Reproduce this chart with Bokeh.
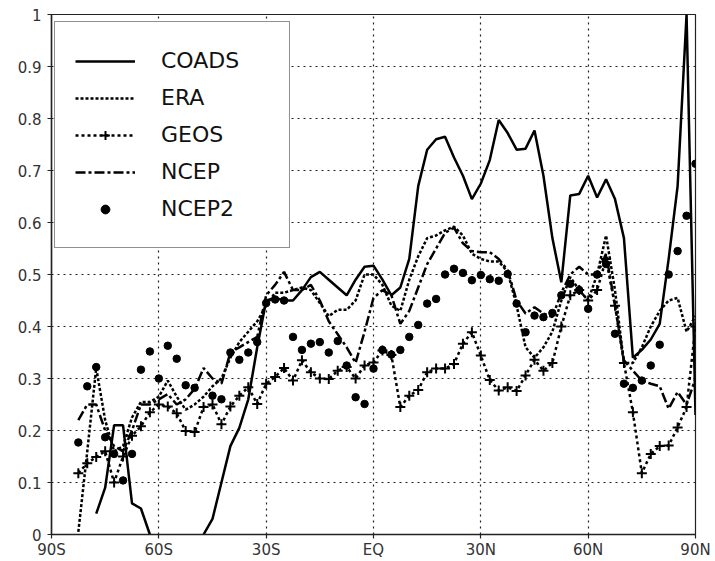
from bokeh.plotting import figure
from bokeh.models import Range1d, FixedTicker, Legend, LegendItem
from bokeh.embed import file_html
from bokeh.resources import INLINE

nan = float("nan")

LAT = [-90, -87.5, -85, -82.5, -80, -77.5, -75, -72.5, -70, -67.5, -65, -62.5, -60,
       -57.5, -55, -52.5, -50, -47.5, -45, -42.5, -40, -37.5, -35, -32.5, -30,
       -27.5, -25, -22.5, -20, -17.5, -15, -12.5, -10, -7.5, -5, -2.5, 0,
       2.5, 5, 7.5, 10, 12.5, 15, 17.5, 20, 22.5, 25, 27.5, 30,
       32.5, 35, 37.5, 40, 42.5, 45, 47.5, 50, 52.5, 55, 57.5, 60,
       62.5, 65, 67.5, 70, 72.5, 75, 77.5, 80, 82.5, 85, 87.5, 90]

COADS = [nan, nan, nan, nan, nan, 0.04, 0.09, 0.21, 0.21, 0.06, 0.05, 0.0, nan,
         nan, nan, nan, nan, 0.0, 0.03, 0.10, 0.17, 0.205, 0.26, 0.36, 0.45,
         0.455, 0.45, 0.45, 0.47, 0.495, 0.505, 0.49, 0.475, 0.46, 0.49, 0.515, 0.517,
         0.49, 0.46, 0.475, 0.53, 0.67, 0.74, 0.76, 0.765, 0.725, 0.69, 0.645, 0.675,
         0.72, 0.797, 0.772, 0.74, 0.742, 0.777, 0.69, 0.57, 0.485, 0.652, 0.655, 0.69,
         0.648, 0.683, 0.645, 0.57, 0.34, 0.355, 0.375, 0.405, 0.53, 0.67, 1.0, 0.23]

ERA = [nan, nan, nan, 0.005, 0.16, 0.32, 0.22, 0.16, 0.17, 0.225, 0.255, 0.255, 0.265,
       0.296, 0.265, 0.24, 0.25, 0.265, 0.285, 0.30, 0.34, 0.37, 0.39, 0.41, 0.44,
       0.465, 0.465, 0.47, 0.475, 0.47, 0.445, 0.42, 0.432, 0.432, 0.45, 0.5, 0.50,
       0.48, 0.44, 0.43, 0.49, 0.535, 0.57, 0.575, 0.585, 0.592, 0.575, 0.54, 0.53,
       0.525, 0.525, 0.505, 0.44, 0.36, 0.34, 0.36, 0.39, 0.45, 0.495, 0.47, 0.45,
       0.50, 0.575, 0.47, 0.33, 0.33, 0.36, 0.40, 0.43, 0.45, 0.455, 0.39, 0.42]

GEOS = [nan, nan, nan, 0.118, 0.137, 0.149, 0.16, 0.10, 0.15, 0.19, 0.208, 0.235, 0.25,
        0.246, 0.233, 0.199, 0.197, 0.245, 0.25, 0.212, 0.246, 0.267, 0.283, 0.251, 0.29,
        0.303, 0.32, 0.296, 0.335, 0.312, 0.30, 0.299, 0.315, 0.322, 0.30, 0.325, 0.331,
        0.354, 0.345, 0.245, 0.267, 0.278, 0.312, 0.319, 0.319, 0.328, 0.367, 0.389, 0.344,
        0.297, 0.277, 0.283, 0.276, 0.306, 0.336, 0.315, 0.33, 0.40, 0.46, 0.47, 0.45,
        0.47, 0.53, 0.44, 0.33, 0.235, 0.118, 0.155, 0.17, 0.171, 0.206, 0.245, 0.40]

NCEP = [nan, nan, nan, 0.22, 0.25, 0.25, 0.20, 0.17, 0.16, 0.20, 0.25, 0.25, 0.26,
        0.27, 0.25, 0.26, 0.28, 0.32, 0.30, 0.29, 0.35, 0.36, 0.37, 0.38, 0.46,
        0.48, 0.505, 0.47, 0.47, 0.48, 0.45, 0.41, 0.385, 0.36, 0.33, 0.39, 0.455,
        0.47, 0.46, 0.405, 0.43, 0.475, 0.52, 0.55, 0.58, 0.59, 0.56, 0.545, 0.543,
        0.543, 0.53, 0.508, 0.45, 0.425, 0.437, 0.425, 0.418, 0.465, 0.50, 0.515, 0.50,
        0.50, 0.54, 0.44, 0.335, 0.315, 0.296, 0.29, 0.285, 0.242, 0.274, 0.25, 0.30]

NCEP2 = [nan, nan, nan, 0.177, 0.285, 0.322, 0.187, 0.155, 0.104, 0.155, 0.317, 0.352, 0.30,
         0.363, 0.338, 0.287, 0.282, nan, 0.267, 0.26, 0.35, 0.336, 0.35, 0.37, 0.445,
         0.452, 0.45, 0.38, 0.355, 0.367, 0.37, 0.35, 0.372, 0.325, 0.264, 0.251, 0.319,
         0.355, 0.346, 0.355, 0.38, 0.403, 0.444, 0.453, 0.50, 0.511, 0.503, 0.489, 0.499,
         0.491, 0.488, 0.501, 0.444, 0.389, 0.421, 0.418, 0.426, 0.46, 0.482, 0.47, 0.434,
         0.50, 0.52, 0.386, 0.29, 0.282, 0.296, 0.325, 0.365, 0.50, 0.545, 0.613, 0.713]

X_TICKS = [-90, -60, -30, 0, 30, 60, 90]
X_TICK_LABELS = ["90S", "60S", "30S", "EQ", "30N", "60N", "90N"]
Y_TICKS = [0, 0.1, 0.2, 0.3, 0.4, 0.5, 0.6, 0.7, 0.8, 0.9, 1]
Y_TICK_LABELS = ["0", "0.1", "0.2", "0.3", "0.4", "0.5", "0.6", "0.7", "0.8", "0.9", "1"]

SERIES_NAMES = ["COADS", "ERA", "GEOS", "NCEP", "NCEP2"]

FONT = "DejaVu Sans"

p = figure(width=712, height=561, output_backend="svg", toolbar_location=None,
           x_range=Range1d(-90, 90), y_range=Range1d(0, 1),
           min_border_left=51, min_border_right=17, min_border_top=14, min_border_bottom=26)
p.background_fill_color = "white"
p.border_fill_color = "white"
p.outline_line_color = "#222222"
p.outline_line_width = 1.2

# grid
for g in (p.xgrid, p.ygrid):
    g.grid_line_color = "#222222"
    g.grid_line_dash = "2 4"
    g.grid_line_width = 1.2
    g.grid_line_alpha = 1.0
p.xgrid.ticker = FixedTicker(ticks=X_TICKS)
p.ygrid.ticker = FixedTicker(ticks=Y_TICKS)

# axes
p.xaxis.ticker = FixedTicker(ticks=X_TICKS)
p.xaxis.major_label_overrides = dict(zip(X_TICKS, X_TICK_LABELS))
p.yaxis.ticker = FixedTicker(ticks=Y_TICKS)
p.yaxis.major_label_overrides = dict(zip(Y_TICKS, Y_TICK_LABELS))
for ax in (p.xaxis, p.yaxis):
    ax.axis_line_color = "#222222"
    ax.axis_line_width = 1.5
    ax.major_tick_line_color = "#222222"
    ax.major_tick_line_width = 1.2
    ax.major_tick_out = 4
    ax.major_tick_in = 0
    ax.minor_tick_line_color = None
    ax.major_label_text_font = FONT
    ax.major_label_text_font_size = "15px"
    ax.major_label_text_color = "#333333"
p.xaxis.major_label_standoff = 2
p.yaxis.major_label_standoff = 6

BLACK = "black"
r_coads = p.line(LAT, COADS, line_color=BLACK, line_width=2.5)
r_era = p.line(LAT, ERA, line_color=BLACK, line_width=2.5, line_dash="3 2")
r_geos = p.line(LAT, GEOS, line_color=BLACK, line_width=2.5, line_dash="3 3")
r_geos_m = p.scatter(LAT, GEOS, marker="cross", size=10, line_color=BLACK, line_width=2)
r_ncep = p.line(LAT, NCEP, line_color=BLACK, line_width=2.5, line_dash="10 3 3 3")
r_ncep2 = p.scatter(LAT, NCEP2, marker="circle", size=7.5, fill_color=BLACK, line_color=BLACK)

legend = Legend(items=[
    LegendItem(label=SERIES_NAMES[0], renderers=[r_coads]),
    LegendItem(label=SERIES_NAMES[1], renderers=[r_era]),
    LegendItem(label=SERIES_NAMES[2], renderers=[r_geos, r_geos_m]),
    LegendItem(label=SERIES_NAMES[3], renderers=[r_ncep]),
    LegendItem(label=SERIES_NAMES[4], renderers=[r_ncep2]),
], location=(3, 286))
legend.label_text_font = FONT
legend.label_text_font_size = "22px"
legend.label_text_color = "#111111"
legend.glyph_width = 60
legend.glyph_height = 22
legend.label_height = 37
legend.label_width = 108
legend.label_standoff = 26
legend.spacing = 0
legend.padding = 20
legend.margin = 0
legend.border_line_color = "#222222"
legend.border_line_width = 1.5
legend.background_fill_color = "white"
legend.background_fill_alpha = 1.0
p.add_layout(legend, "center")

open("out.html", "w").write(file_html(p, INLINE))
